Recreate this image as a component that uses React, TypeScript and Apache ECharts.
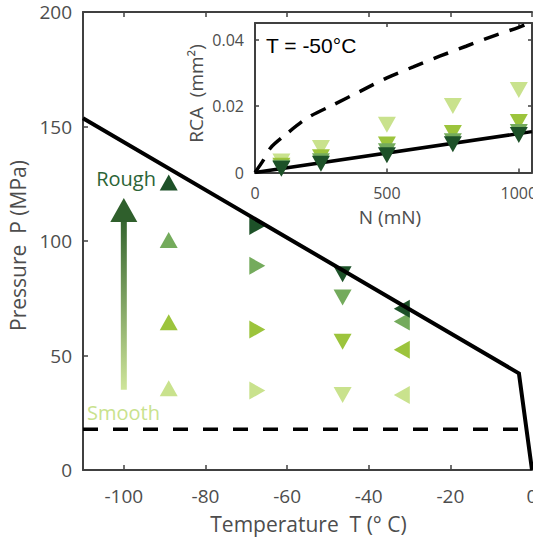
import React, { useEffect, useRef } from 'react';
import * as echarts from 'echarts';

// ---- Main chart data (Temperature vs Pressure) ----
const tempTicks = [-100, -80, -60, -40, -20, 0];
const markerTemps = [-89, -67.3, -46.4, -31.9];
const markerRotations = [0, -90, 180, 90]; // up, right, down, left
const pressureLight = [35.7, 34.7, 32.8, 32.8];
const pressureYellowGreen = [64.5, 61.3, 56.0, 52.5];
const pressureMid = [100.4, 89.2, 75.3, 64.8];
const pressureDark = [125.5, 106.6, 85.5, 70.4];

const boundaryT = [-110, -3.2, 0];
const boundaryP = [153.6, 42.2, 0];
const thresholdT = [-110, 0];
const thresholdP = [17.8, 17.8];

// ---- Inset data (N vs RCA at T = -50°C) ----
const loadTicks = [0, 500, 1000];
const rcaTicks = [0, 0.02, 0.04];
const loads = [100, 250, 500, 750, 1000];
const rcaLight = [0.0033, 0.0074, 0.0144, 0.02, 0.0248];
const rcaYellowGreen = [0.002, 0.0046, 0.0084, 0.0119, 0.0152];
const rcaMid = [0.0014, 0.0034, 0.0064, 0.0094, 0.0122];
const rcaDark = [0.0011, 0.0026, 0.0052, 0.0085, 0.0113];
const fitN = [0, 1050];
const fitRca = [0, 0.0123];
const boundN = [0, 30, 60, 110, 200, 300, 400, 500, 600, 700, 800, 900, 1000, 1050];
const boundRca = [0, 0.0035, 0.0075, 0.011, 0.0165, 0.0205, 0.0245, 0.0285, 0.0318, 0.035, 0.038, 0.041, 0.0437, 0.0453];

// Arrow annotation (data coordinates)
const arrowT = -100;
const arrowTailP = 35;
const arrowHeadBaseP = 108.3;
const arrowTipP = 118.8;

const COLORS = { light: '#c9e28d', yg: '#9cc43c', mid: '#74ab5c', dark: '#1d5128' };
const AXIS = '#404040';
const TEXT = '#4d4d4d';
const FONT = 'Open Sans';

export default function App() {
  const ref = useRef<HTMLDivElement>(null);
  useEffect(() => {
    if (!ref.current) return;
    const chart = echarts.init(ref.current, null, { renderer: 'svg' });

    const axisLine = { show: true, onZero: false, lineStyle: { color: AXIS, width: 2 } };
    const tick = (vals: number[] | null, len = 5) => ({
      show: true,
      inside: true,
      length: len,
      lineStyle: { color: AXIS, width: 1.5 },
      ...(vals ? { customValues: vals } : {}),
    });
    const label = (size: number, margin: number, vals?: number[]) => ({
      show: true,
      color: TEXT,
      fontFamily: FONT,
      fontSize: size,
      margin,
      formatter: (v: number) => String(v),
      ...(vals ? { customValues: vals } : {}),
    });

    const mainScatter = (arr: number[], color: string, name: string) => ({
      name,
      type: 'scatter',
      xAxisIndex: 0,
      yAxisIndex: 0,
      symbol: 'triangle',
      symbolSize: [18, 16],
      itemStyle: { color, opacity: 1 },
      data: markerTemps.map((t, i) => ({ value: [t, arr[i]], symbolRotate: markerRotations[i] })),
      z: 2,
    });
    const insetScatter = (arr: number[], color: string, name: string) => ({
      name,
      type: 'scatter',
      xAxisIndex: 2,
      yAxisIndex: 1,
      symbol: 'triangle',
      symbolRotate: 180,
      symbolSize: [18, 16],
      itemStyle: { color, opacity: 1 },
      data: loads.map((n, i) => [n, arr[i]]),
      z: 4,
    });

    chart.setOption({
      animation: false,
      backgroundColor: '#fff',
      grid: [
        { left: 83, top: 12, width: 449, height: 458, show: false, containLabel: false, outerBoundsMode: 'none' },
        {
          left: 255, top: 23, width: 277, height: 149.5, show: true,
          backgroundColor: '#fff', borderWidth: 0, containLabel: false, outerBoundsMode: 'none',
        },
      ],
      xAxis: [
        {
          gridIndex: 0, type: 'value', min: -110, max: 0, position: 'bottom',
          axisLine, axisTick: tick(tempTicks), axisLabel: label(19, 16, tempTicks), splitLine: { show: false },
        },
        {
          gridIndex: 0, type: 'value', min: -110, max: 0, position: 'top',
          axisLine, axisTick: tick(tempTicks), axisLabel: { show: false, customValues: tempTicks }, splitLine: { show: false },
        },
        {
          gridIndex: 1, type: 'value', min: 0, max: 1050, position: 'bottom',
          axisLine, axisTick: tick(loadTicks, 4), axisLabel: label(16, 12, loadTicks), splitLine: { show: false },
        },
        {
          gridIndex: 1, type: 'value', min: 0, max: 1050, position: 'top',
          axisLine, axisTick: tick(loadTicks, 4), axisLabel: { show: false, customValues: loadTicks }, splitLine: { show: false },
        },
      ],
      yAxis: [
        {
          gridIndex: 0, type: 'value', min: 0, max: 200, interval: 50, position: 'left',
          axisLine, axisTick: tick(null), axisLabel: label(19, 11), splitLine: { show: false },
        },
        {
          gridIndex: 1, type: 'value', min: 0, max: 0.045, position: 'left',
          axisLine, axisTick: tick(rcaTicks, 4), axisLabel: label(16, 11, rcaTicks), splitLine: { show: false },
        },
        {
          gridIndex: 1, type: 'value', min: 0, max: 0.045, position: 'right',
          axisLine, axisTick: tick(rcaTicks, 4), axisLabel: { show: false, customValues: rcaTicks }, splitLine: { show: false },
        },
      ],
      series: [
        mainScatter(pressureLight, COLORS.light, 'Smooth'),
        mainScatter(pressureYellowGreen, COLORS.yg, 'Medium smooth'),
        mainScatter(pressureMid, COLORS.mid, 'Medium rough'),
        mainScatter(pressureDark, COLORS.dark, 'Rough'),
        {
          type: 'line', xAxisIndex: 0, yAxisIndex: 0, symbol: 'none', z: 3,
          lineStyle: { color: '#000', width: 4, join: 'miter' },
          data: boundaryT.map((t, i) => [t, boundaryP[i]]),
        },
        {
          type: 'line', xAxisIndex: 0, yAxisIndex: 0, symbol: 'none', z: 3,
          lineStyle: { color: '#000', width: 3.5, type: [15, 15] },
          data: thresholdT.map((t, i) => [t, thresholdP[i]]),
        },
        {
          type: 'line', xAxisIndex: 2, yAxisIndex: 1, symbol: 'none', z: 3,
          lineStyle: { color: '#000', width: 3.5 },
          data: fitN.map((n, i) => [n, fitRca[i]]),
        },
        {
          type: 'line', xAxisIndex: 2, yAxisIndex: 1, symbol: 'none', z: 3, smooth: 0.3,
          lineStyle: { color: '#000', width: 3.5, type: [16, 11] },
          data: boundN.map((n, i) => [n, boundRca[i]]),
        },
        insetScatter(rcaLight, COLORS.light, 'Smooth (inset)'),
        insetScatter(rcaYellowGreen, COLORS.yg, 'Medium smooth (inset)'),
        insetScatter(rcaMid, COLORS.mid, 'Medium rough (inset)'),
        insetScatter(rcaDark, COLORS.dark, 'Rough (inset)'),
      ],
    });

    const tail = chart.convertToPixel({ xAxisIndex: 0, yAxisIndex: 0 }, [arrowT, arrowTailP]) as number[];
    const base = chart.convertToPixel({ xAxisIndex: 0, yAxisIndex: 0 }, [arrowT, arrowHeadBaseP]) as number[];
    const tip = chart.convertToPixel({ xAxisIndex: 0, yAxisIndex: 0 }, [arrowT, arrowTipP]) as number[];
    const ax = tip[0];

    chart.setOption({
      graphic: [
        {
          type: 'rect', z: 10,
          shape: { x: ax - 3, y: base[1] - 1, width: 6, height: tail[1] - base[1] + 1 },
          style: {
            fill: new echarts.graphic.LinearGradient(0, 0, 0, 1, [
              { offset: 0, color: '#35652f' },
              { offset: 1, color: '#cfe59a' },
            ]),
          },
        },
        {
          type: 'polygon', z: 10,
          shape: { points: [[ax, tip[1]], [ax - 13.5, base[1]], [ax + 13.5, base[1]]] },
          style: { fill: '#2f5f2c' },
        },
        {
          type: 'text', x: 126, y: 178, z: 10,
          style: { text: 'Rough', fill: '#2b6436', font: `20px "${FONT}"`, align: 'center', verticalAlign: 'middle' },
        },
        {
          type: 'text', x: 123.5, y: 412, z: 10,
          style: { text: 'Smooth', fill: COLORS.light, font: `20px "${FONT}"`, align: 'center', verticalAlign: 'middle' },
        },
        {
          type: 'text', x: 18, y: 245.5, rotation: Math.PI / 2, z: 10,
          style: { text: 'Pressure  P (MPa)', fill: TEXT, font: `21px "${FONT}"`, align: 'center', verticalAlign: 'middle' },
        },
        {
          type: 'text', x: 308.5, y: 524, z: 10,
          style: { text: 'Temperature  T (° C)', fill: TEXT, font: `21px "${FONT}"`, align: 'center', verticalAlign: 'middle' },
        },
        {
          type: 'text', x: 196, y: 93.5, rotation: Math.PI / 2, z: 10,
          style: { text: 'RCA  (mm²)', fill: TEXT, font: `19px "${FONT}"`, align: 'center', verticalAlign: 'middle' },
        },
        {
          type: 'text', x: 390, y: 217, z: 10,
          style: { text: 'N (mN)', fill: TEXT, font: `19px "${FONT}"`, align: 'center', verticalAlign: 'middle' },
        },
        {
          type: 'text', x: 266, y: 45, z: 10,
          style: { text: 'T = -50°C', fill: '#000', font: '21px "Liberation Sans"', align: 'left', verticalAlign: 'middle' },
        },
      ],
    });

    return () => chart.dispose();
  }, []);

  return (
    <div
      ref={ref}
      style={{ position: 'fixed', left: 0, top: 0, width: 533, height: 539, overflow: 'hidden' }}
    />
  );
}
